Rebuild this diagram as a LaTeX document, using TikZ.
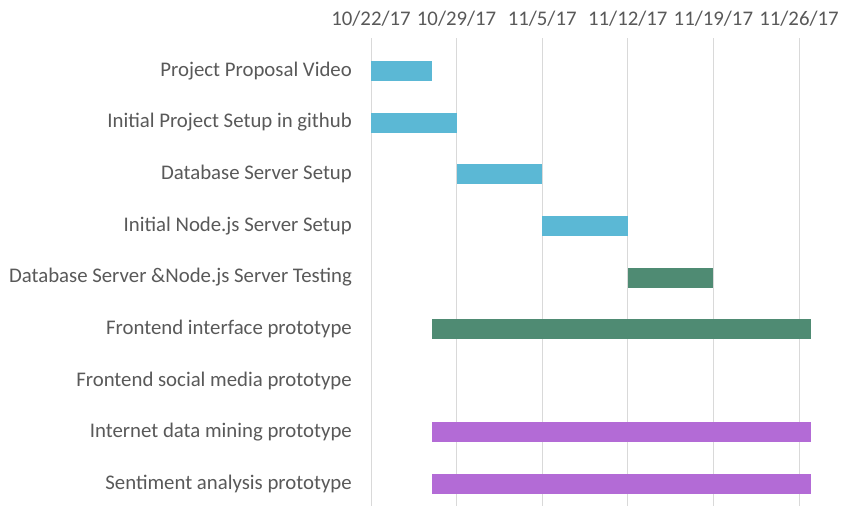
\documentclass[tikz,border=0pt]{standalone}
\usepackage{fontspec}
\setmainfont{Carlito}
\definecolor{barblue}{RGB}{91,184,213}
\definecolor{bargreen}{RGB}{79,139,115}
\definecolor{barpurple}{RGB}{179,107,214}
\definecolor{gridgray}{RGB}{217,217,217}
\definecolor{txtgray}{RGB}{89,89,89}
\tikzset{
  gridline/.style={draw=gridgray, line width=1pt},
  tasklabel/.style={anchor=east, inner sep=0pt, text=txtgray, font=\fontsize{20.8}{22}\selectfont},
  datelabel/.style={anchor=center, inner sep=0pt, text=txtgray, font=\fontsize{20.8}{22}\selectfont},
}
\begin{document}
\begin{tikzpicture}[x=1pt,y=-1pt]
\useasboundingbox[fill=white] (0,0) rectangle (841,506);
% gridlines and dates
\foreach \i/\xx/\d in {0/371/10\slash 22\slash 17,1/456.6/10\slash 29\slash 17,2/542.2/11\slash 5\slash 17,3/627.8/11\slash 12\slash 17,4/713.4/11\slash 19\slash 17,5/799/11\slash 26\slash 17}{
  \coordinate (gt\i) at (\xx,38);
  \coordinate (gb\i) at (\xx,506);
  \draw[gridline] (gt\i) -- (gb\i);
  \node[datelabel] (d\i) at (\xx,19) {\d};
}
% task labels
\node[tasklabel] (t1) at (352,71) {Project Proposal Video};
\node[tasklabel] (t2) at (352,122.5) {Initial Project Setup in github};
\node[tasklabel] (t3) at (352,174) {Database Server Setup};
\node[tasklabel] (t4) at (352,226) {Initial Node.js Server Setup};
\node[tasklabel] (t5) at (352,277.5) {Database Server \&Node.js Server Testing};
\node[tasklabel] (t6) at (352,329) {Frontend interface prototype};
\node[tasklabel] (t7) at (352,380.5) {Frontend social media prototype};
\node[tasklabel] (t8) at (352,432) {Internet data mining prototype};
\node[tasklabel] (t9) at (352,484) {Sentiment analysis prototype};
% bars
\fill[barblue] (371,61) rectangle (432,81);
\fill[barblue] (371,112.5) rectangle (456.6,132.5);
\fill[barblue] (456.6,164) rectangle (542.2,184);
\fill[barblue] (542.2,216) rectangle (627.8,236);
\fill[bargreen] (627.8,267.5) rectangle (713.4,287.5);
\fill[bargreen] (432,319) rectangle (811,339);
\fill[barpurple] (432,422) rectangle (811,442);
\fill[barpurple] (432,474) rectangle (811,494);
\end{tikzpicture}
\end{document}
